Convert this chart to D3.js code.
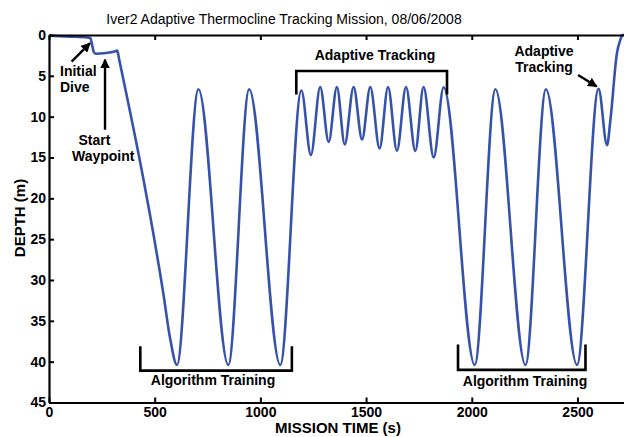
<!DOCTYPE html>
<html>
<head>
<meta charset="utf-8">
<script src="https://cdn.jsdelivr.net/npm/d3@7"></script>
<style>
  html, body { margin: 0; padding: 0; background: #fff; }
  svg { display: block; font-family: "Liberation Sans", Arial, sans-serif; }
</style>
</head>
<body>
<svg id="chart" width="624" height="437"></svg>
<script>
// Vehicle depth record: mission time (s) and depth (m) at turning points and along legs
const missionTime = [
  0, 100, 180, 196, 204, 212, 222, 270, 318,
  323, 332, 447, 479, 540, 574, 605,
  707, 848, 947, 1094, 1194,
  1239, 1283, 1323, 1362, 1399, 1441, 1481, 1520, 1564, 1604, 1646, 1689, 1733, 1772, 1820, 1867,
  2014, 2112, 2254, 2351, 2498, 2600, 2640, 2656, 2687, 2703, 2712, 2725
];
const depth = [
  0.1, 0.2, 0.3, 0.4, 1.2, 2.1, 2.3, 2.2, 1.95,
  1.9, 3.0, 17.7, 22.2, 31.5, 37.3, 40.4,
  6.65, 40.4, 6.65, 40.4, 6.8,
  14.7, 6.36, 13.1, 6.36, 13.4, 6.36, 12.8, 6.36, 13.9, 6.36, 14.2, 6.36, 14.2, 6.36, 15.0, 6.4,
  40.4, 6.65, 40.4, 6.65, 40.4, 6.6, 13.5, 10.4, 2.2, 0.6, 0.0, 0.0
];

const xTicks = [0, 500, 1000, 1500, 2000, 2500];
const yTicks = [0, 5, 10, 15, 20, 25, 30, 35, 40, 45];

// Bracketed mission phases: [start time, end time, depth of bar, depth of bar ends]
const phaseBrackets = [
  { label: "Adaptive Tracking",  t0: 1170, t1: 1883, bar: 4.4,  tip: 7.3 },
  { label: "Algorithm Training", t0: 432,  t1: 1149, bar: 41.1, tip: 38.1 },
  { label: "Algorithm Training", t0: 1935, t1: 2538, bar: 41.0, tip: 37.9 }
];

const svg = d3.select("#chart");

const x = d3.scaleLinear().domain([0, 2725]).range([49, 625]);
const y = d3.scaleLinear().domain([0, 45]).range([35, 402.5]);

const ink = "#000";

// Title
svg.append("text")
  .attr("x", 284).attr("y", 24)
  .attr("text-anchor", "middle")
  .attr("font-size", 14)
  .text("Iver2 Adaptive Thermocline Tracking Mission, 08/06/2008");

// Depth trace
const pts = missionTime.map((t, i) => [t, depth[i]]);
const line = d3.line()
  .x(d => x(d[0]))
  .y(d => y(d[1]))
  .curve(d3.curveMonotoneX);

svg.append("path")
  .datum(pts)
  .attr("d", line)
  .attr("fill", "none")
  .attr("stroke", "#3652aa")
  .attr("stroke-width", 2.6)
  .attr("stroke-linejoin", "round");

// Axes
const styleAxis = g => {
  g.select(".domain").attr("stroke", ink).attr("stroke-width", 2.2);
  g.selectAll(".tick line").attr("stroke", ink).attr("stroke-width", 2);
  g.selectAll(".tick text")
    .attr("fill", ink)
    .attr("font-size", 14)
    .attr("font-weight", "bold")
    .attr("font-family", "Liberation Sans, Arial, sans-serif");
};

svg.append("g")
  .attr("transform", `translate(0,${y(45)})`)
  .call(d3.axisBottom(x).tickValues(xTicks).tickFormat(d3.format("d"))
    .tickSizeInner(-5).tickSizeOuter(0).tickPadding(5))
  .call(styleAxis);

svg.append("g")
  .attr("transform", `translate(0,${y(0)})`)
  .call(d3.axisTop(x).tickValues(xTicks).tickFormat("")
    .tickSizeInner(-5).tickSizeOuter(0))
  .call(styleAxis);

svg.append("g")
  .attr("transform", `translate(${x(0)},0)`)
  .call(d3.axisLeft(y).tickValues(yTicks).tickFormat(d3.format("d"))
    .tickSizeInner(-5).tickSizeOuter(0).tickPadding(3))
  .call(styleAxis);

// Axis titles
svg.append("text")
  .attr("x", 338).attr("y", 433)
  .attr("text-anchor", "middle")
  .attr("font-size", 15).attr("font-weight", "bold")
  .text("MISSION TIME (s)");

svg.append("text")
  .attr("transform", "translate(25,218) rotate(-90)")
  .attr("text-anchor", "middle")
  .attr("font-size", 15).attr("font-weight", "bold")
  .text("DEPTH (m)");

// Phase brackets
const bracketPath = b => {
  const p = d3.path();
  p.moveTo(x(b.t0), y(b.tip));
  p.lineTo(x(b.t0), y(b.bar));
  p.lineTo(x(b.t1), y(b.bar));
  p.lineTo(x(b.t1), y(b.tip));
  return p.toString();
};
svg.selectAll("path.bracket")
  .data(phaseBrackets)
  .join("path")
  .attr("class", "bracket")
  .attr("d", bracketPath)
  .attr("fill", "none")
  .attr("stroke", ink)
  .attr("stroke-width", 2.6)
  .attr("stroke-linejoin", "miter");

// Annotation text
const labels = [
  { text: "Adaptive Tracking",  x: 375, y: 60,    anchor: "middle" },
  { text: "Algorithm Training", x: 213, y: 385,   anchor: "middle" },
  { text: "Algorithm Training", x: 525, y: 385.5, anchor: "middle" },
  { text: "Adaptive",           x: 544, y: 56,    anchor: "middle" },
  { text: "Tracking",           x: 544, y: 72,    anchor: "middle" },
  { text: "Initial",            x: 60,  y: 75.5,  anchor: "start" },
  { text: "Dive",               x: 60,  y: 91.5,  anchor: "start" },
  { text: "Start",              x: 78.5, y: 145,  anchor: "start" },
  { text: "Waypoint",           x: 72,  y: 160.5, anchor: "start" }
];
svg.selectAll("text.note")
  .data(labels)
  .join("text")
  .attr("class", "note")
  .attr("x", d => d.x).attr("y", d => d.y)
  .attr("text-anchor", d => d.anchor)
  .attr("font-size", 14).attr("font-weight", "bold")
  .text(d => d.text);

// Arrows pointing at events on the trace (time, depth pairs)
const arrows = [
  { from: [107, 3.27], to: [194, 1.0] },
  { from: [265, 11.6], to: [265, 3.0] },
  { from: [2503, 4.9], to: [2591, 6.3] }
];
const defs = svg.append("defs");
defs.append("marker")
  .attr("id", "head")
  .attr("viewBox", "0 0 10 10")
  .attr("refX", 9).attr("refY", 5)
  .attr("markerWidth", 4).attr("markerHeight", 4)
  .attr("markerUnits", "strokeWidth")
  .attr("orient", "auto")
  .append("path")
  .attr("d", "M0,0 L10,5 L0,10 Z")
  .attr("fill", ink);

svg.selectAll("line.arrow")
  .data(arrows)
  .join("line")
  .attr("class", "arrow")
  .attr("x1", d => x(d.from[0])).attr("y1", d => y(d.from[1]))
  .attr("x2", d => x(d.to[0])).attr("y2", d => y(d.to[1]))
  .attr("stroke", ink)
  .attr("stroke-width", 2.4)
  .attr("marker-end", "url(#head)");
</script>
</body>
</html>
